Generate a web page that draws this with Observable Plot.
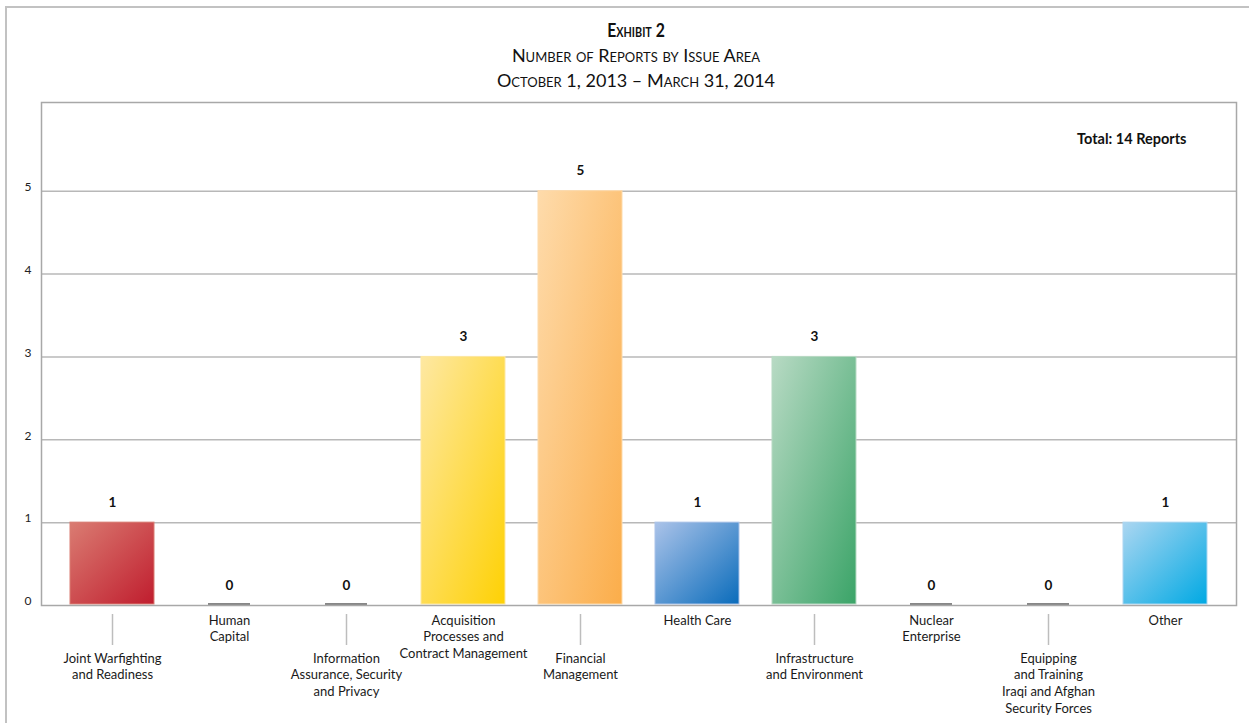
<!DOCTYPE html>
<html>
<head>
<meta charset="utf-8">
<script src="https://cdn.jsdelivr.net/npm/d3@7"></script>
<script src="https://cdn.jsdelivr.net/npm/@observablehq/plot@0.6"></script>
<style>
html, body { margin: 0; padding: 0; background: #fff; overflow: hidden; width: 1249px; height: 723px; }
#outer { position: absolute; left: 5px; top: 6px; width: 1270px; height: 760px; border: 2px solid #c2c2c2; box-sizing: border-box; }
.t { position: absolute; left: 0; width: 1272px; text-align: center; font-family: Lato, sans-serif; font-variant: small-caps; color: #111; line-height: 1.2; white-space: nowrap; }
#t1 { top: 19px; font-size: 19px; font-weight: bold; transform: scaleX(0.83); transform-origin: 636px 50%; }
#t2 { top: 45px; font-size: 18px; }
#t3 { top: 70px; font-size: 18px; }
#chart { position: absolute; left: 0; top: 95px; }
</style>
</head>
<body>
<div id="outer"></div>
<div class="t" id="t1">Exhibit 2</div>
<div class="t" id="t2">Number of Reports by Issue Area</div>
<div class="t" id="t3">October 1, 2013 – March 31, 2014</div>
<div id="chart"></div>
<script>
// ---- data ----
const categories = [
  "Joint Warfighting\nand Readiness",
  "Human\nCapital",
  "Information\nAssurance, Security\nand Privacy",
  "Acquisition\nProcesses and\nContract Management",
  "Financial\nManagement",
  "Health Care",
  "Infrastructure\nand Environment",
  "Nuclear\nEnterprise",
  "Equipping\nand Training\nIraqi and Afghan\nSecurity Forces",
  "Other"
];
const reports = [1, 0, 0, 3, 5, 1, 3, 0, 0, 1];
const yTicks = [0, 1, 2, 3, 4, 5];

// ---- styles ----
const barGradients = [
  ["#da7c72", "#c01d2e"],
  null,
  null,
  ["#fee8a2", "#fed104"],
  ["#fedbab", "#fbad4a"],
  ["#abc3e9", "#0a6cbb"],
  ["#b8dac4", "#3ba468"],
  null,
  null,
  ["#abd6f1", "#00a9e3"]
];

const data = categories.map((c, i) => ({category: c, value: reports[i], i}));

const chart = Plot.plot({
  width: 1249,
  height: 628,
  marginLeft: 41,
  marginRight: 13,
  marginTop: 7,
  marginBottom: 118,
  style: {fontFamily: "Lato, sans-serif", fontSize: "13px", color: "#1a1a1a", background: "transparent"},
  x: {domain: categories, paddingInner: 0.283, paddingOuter: 0.239, axis: null},
  y: {domain: [0, 6.07], axis: null},
  color: {type: "identity"},
  marks: [
    Plot.gridY(yTicks.filter(v => v > 0), {stroke: "#b8b8b8", strokeOpacity: 1, strokeWidth: 1.5}),
    Plot.barY(data.filter(d => d.value > 0), {
      x: "category", y: "value",
      fill: d => `url(#grad${d.i})`,
      stroke: d => barGradients[d.i][0],
      strokeWidth: 1,
      insetBottom: 1
    }),
    Plot.tickY(data.filter(d => d.value === 0), {
      x: "category", y: 0, stroke: "#111", strokeWidth: 1.2,
      insetLeft: 21, insetRight: 21, dy: -1.5
    }),
    Plot.text(data, {
      x: "category", y: "value", text: d => String(d.value),
      dy: -20, fontWeight: "bold", fontSize: 13.5, lineAnchor: "middle", fill: "#111"
    }),
    Plot.frame({stroke: "#a8a8a8", strokeWidth: 1.5}),
    Plot.axisY({ticks: yTicks, tickFormat: d => String(d), label: null, tickSize: 0, tickPadding: 10, dy: -4, fontSize: 12, fill: "#222"}),
    Plot.ruleX(data.filter(d => d.i % 2 === 0), {
      x: "category", stroke: "#bdbdbd", strokeWidth: 1.5, insetTop: 512, insetBottom: -40
    }),
    Plot.text(data.filter(d => d.i % 2 === 1), {
      x: "category", text: "category", frameAnchor: "bottom", lineAnchor: "top",
      dy: 7, lineHeight: 1.3, fontSize: 13, fill: "#1a1a1a"
    }),
    Plot.text(data.filter(d => d.i % 2 === 0), {
      x: "category", text: "category", frameAnchor: "bottom", lineAnchor: "top",
      dy: 45, lineHeight: 1.3, fontSize: 13, fill: "#1a1a1a"
    }),
    Plot.text([`Total: ${d3.sum(reports)} Reports`], {
      frameAnchor: "top-right", dx: -50, dy: 37, textAnchor: "end",
      lineAnchor: "middle", fontWeight: "bold", fontSize: 14.5, fill: "#111"
    })
  ]
});

const svg = chart.tagName.toLowerCase() === "svg" ? chart : chart.querySelector("svg");
const defs = d3.select(svg).insert("defs", ":first-child");
barGradients.forEach((g, i) => {
  if (!g) return;
  const lg = defs.append("linearGradient").attr("id", `grad${i}`)
    .attr("x1", 0).attr("y1", 0).attr("x2", 1).attr("y2", 1);
  lg.append("stop").attr("offset", 0).attr("stop-color", g[0]);
  lg.append("stop").attr("offset", 1).attr("stop-color", g[1]);
});
document.getElementById("chart").appendChild(chart);
</script>
</body>
</html>
